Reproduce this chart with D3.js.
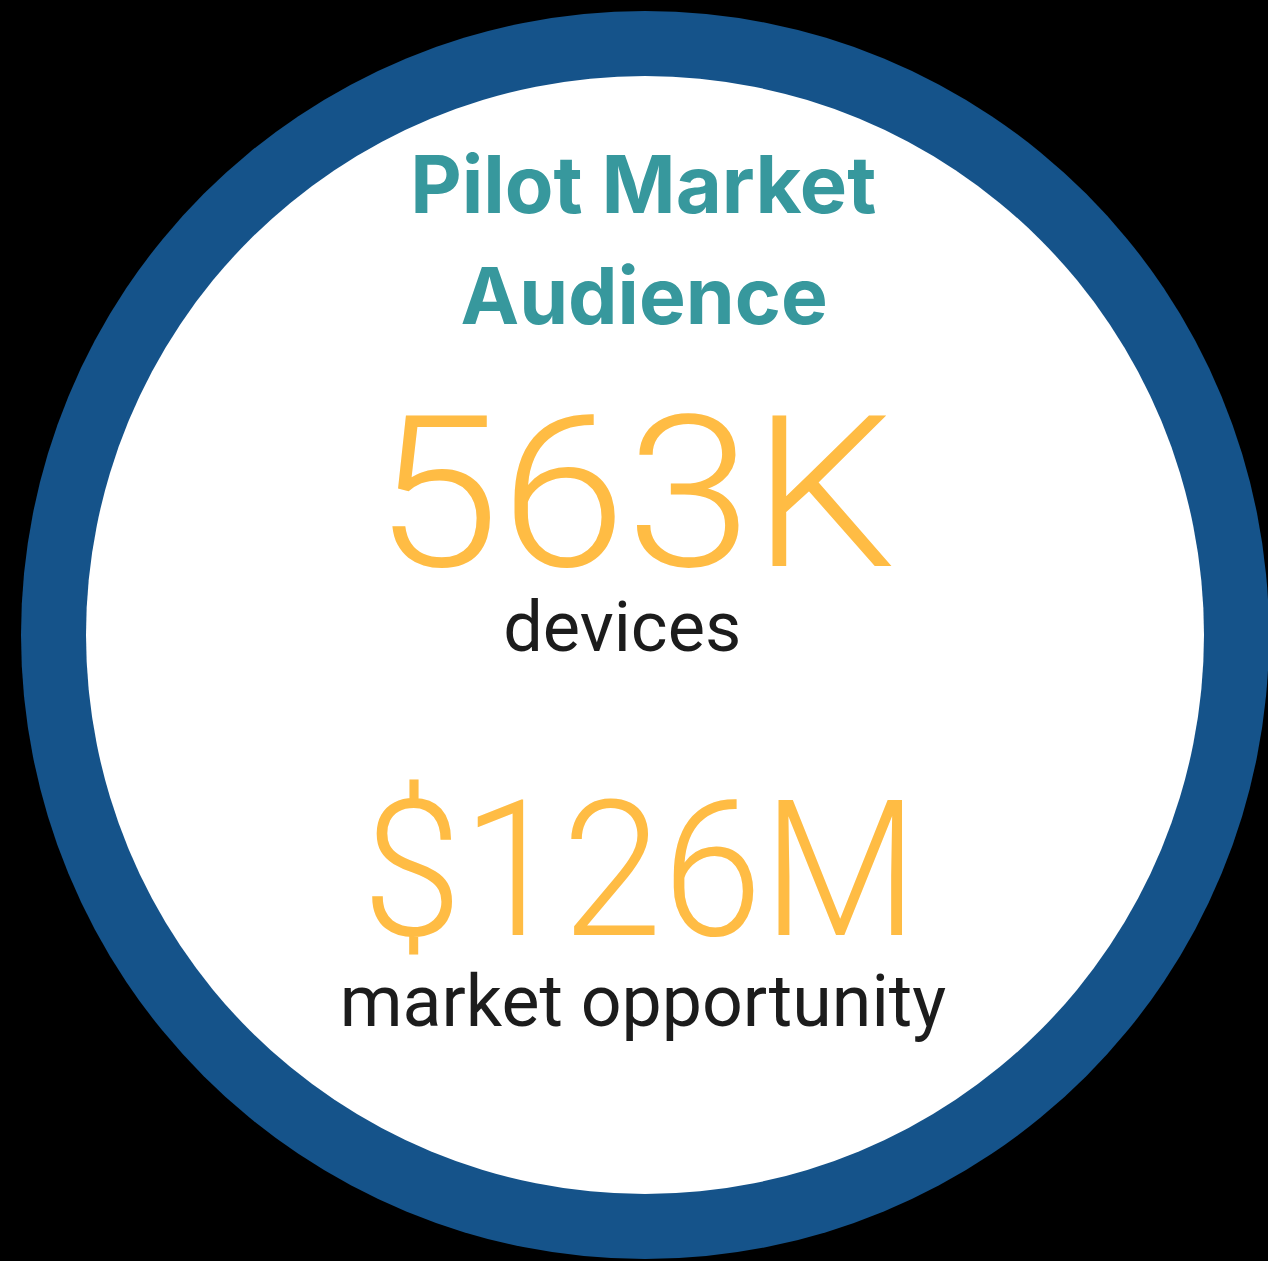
<!DOCTYPE html>
<html>
<head>
<meta charset="utf-8">
<script src="https://cdn.jsdelivr.net/npm/d3@7"></script>
<style>
  html, body { margin: 0; padding: 0; background: #000; }
  svg { display: block; }
</style>
</head>
<body>
<div id="chart"></div>
<script>
// ---- data ----
const titleLines = ["Pilot Market", "Audience"];
const statValues = ["563K", "$126M"];
const statLabels = ["devices", "market opportunity"];

// ---- layout ----
const W = 1268, H = 1261;
const cx = 645, cy = 635, outerR = 624, innerR = 559;

const svg = d3.select("#chart").append("svg")
  .attr("width", W).attr("height", H);

svg.append("rect").attr("width", W).attr("height", H).attr("fill", "#000");
svg.append("circle").attr("cx", cx).attr("cy", cy).attr("r", outerR).attr("fill", "#15538A");
svg.append("circle").attr("cx", cx).attr("cy", cy).attr("r", innerR).attr("fill", "#ffffff");

const ctx = document.createElement("canvas").getContext("2d");

// Place text so that its ink box spans [left,right] with given baseline.
// If refChar/top are given, the font size comes from the height of refChar
// and the text is stretched horizontally to reach the width; otherwise the
// font size comes from the width alone.
function fitText(txt, o) {
  ctx.font = `${o.weight} 100px ${o.family}`;
  const m = ctx.measureText(txt);
  const abl = m.actualBoundingBoxLeft, abr = m.actualBoundingBoxRight;
  const targetW = o.right - o.left;
  let fs, sx = 1;
  if (o.refChar) {
    const asc = ctx.measureText(o.refChar).actualBoundingBoxAscent;
    fs = 100 * (o.baseline - o.top) / asc;
    sx = targetW / ((abl + abr) * fs / 100);
  } else {
    fs = 100 * targetW / (abl + abr);
  }
  const k = fs / 100;
  const g = svg.append("g")
    .attr("transform", `translate(${o.left},${o.baseline}) scale(${sx},1)`);
  g.append("text")
    .attr("x", abl * k).attr("y", 0)
    .attr("text-anchor", "start")
    .attr("font-family", o.family)
    .attr("font-weight", o.weight)
    .attr("font-size", fs)
    .attr("fill", o.color)
    .text(txt);
}

const titleFont = "Inter, 'Noto Sans', sans-serif";
const numFont = "Roboto, Inter, sans-serif";
const labelFont = "Roboto, Inter, sans-serif";

const titleSpecs = [
  { left: 415, right: 875, baseline: 213 },
  { left: 462, right: 825, baseline: 324 }
];
titleLines.forEach((s, i) => fitText(s, Object.assign(
  { family: titleFont, weight: 700, color: "#37989D" }, titleSpecs[i])));

const valueSpecs = [
  { left: 392, right: 893, baseline: 566, top: 413, refChar: "K" },
  { left: 371, right: 903, baseline: 935, top: 799, refChar: "M" }
];
statValues.forEach((s, i) => fitText(s, Object.assign(
  { family: numFont, weight: 300, color: "#FFBC44" }, valueSpecs[i])));

const labelSpecs = [
  { left: 506, right: 738, baseline: 651 },
  { left: 344, right: 946, baseline: 1026 }
];
statLabels.forEach((s, i) => fitText(s, Object.assign(
  { family: labelFont, weight: 400, color: "#1c1c1c" }, labelSpecs[i])));
</script>
</body>
</html>
